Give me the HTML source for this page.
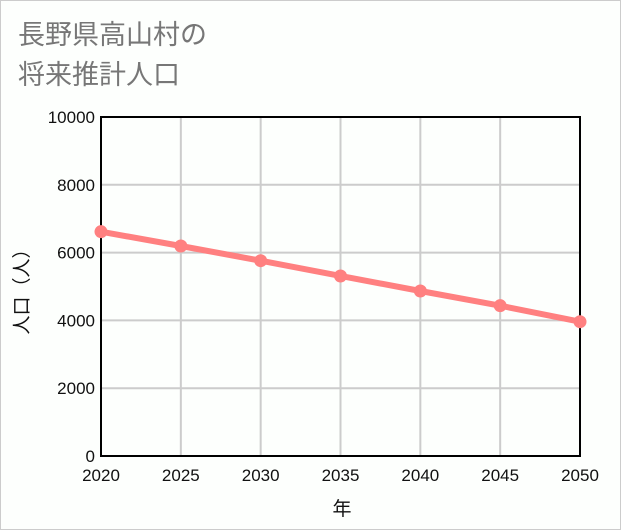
<!DOCTYPE html>
<html><head><meta charset="utf-8"><style>
body{margin:0;background:#fff}
#wrap{position:relative;width:619px;height:528px;border:1px solid #ccc;background:#fdfffd;font-family:"Liberation Sans","Noto Sans CJK JP",sans-serif}
#title{position:absolute;left:17px;top:14px;font-size:27px;line-height:40px;color:#777}
</style></head><body>
<div id="wrap">
<div id="title">長野県高山村の<br>将来推計人口</div>
<svg id="chart" width="619" height="528" style="position:absolute;left:0;top:0"></svg>
</div>
<script>
const years=[2020,2025,2030,2035,2040,2045,2050];
const population=[6617,6195,5761,5310,4867,4434,3962];
const yTicks=[0,2000,4000,6000,8000,10000];
const xTicks=[2020,2025,2030,2035,2040,2045,2050];
const NS="http://www.w3.org/2000/svg";
const svg=document.getElementById('chart');
const L=100,R=579,T=116,B=455;
const xs=v=>L+(v-2020)/30*(R-L);
const ys=v=>B-v/10000*(B-T);
function mk(t,a){const e=document.createElementNS(NS,t);for(const k in a)e.setAttribute(k,a[k]);svg.appendChild(e);return e;}
yTicks.forEach(v=>{
 const g=mk('line',{x1:L,x2:R,y1:ys(v),y2:ys(v),stroke:'#ccc','stroke-width':2});
 
 
 const t=mk('text',{x:L-6,y:ys(v)+6,'text-anchor':'end','font-size':17,fill:'#111'});
 t.textContent=v;
 
 
});
xTicks.forEach(v=>{
 const g=mk('line',{x1:xs(v),x2:xs(v),y1:T,y2:B,stroke:'#ccc','stroke-width':2});
 
 
 const t=mk('text',{x:xs(v),y:B+25,'text-anchor':'middle','font-size':17,fill:'#111'});
 t.textContent=v;
 
 
});
const f=mk('rect',{x:L,y:T,width:R-L,height:B-T,fill:'none',stroke:'#000','stroke-width':2});


const pl=mk('polyline',{points:years.map((y,i)=>xs(y)+','+ys(population[i])).join(' '),fill:'none',stroke:'#ff8080','stroke-width':6});


years.forEach((y,i)=>{
 const c=mk('circle',{cx:xs(y),cy:ys(population[i]),r:6.5,fill:'#ff8080'});
 
 
});
const xt=mk('text',{x:341,y:514,'text-anchor':'middle','font-size':19,fill:'#111'});
xt.textContent='年';


const yt=mk('text',{x:0,y:0,'text-anchor':'middle','font-size':19,fill:'#111',transform:'translate(27,286) rotate(-90)'});
yt.textContent='人口（人）';


</script>
</body></html>
